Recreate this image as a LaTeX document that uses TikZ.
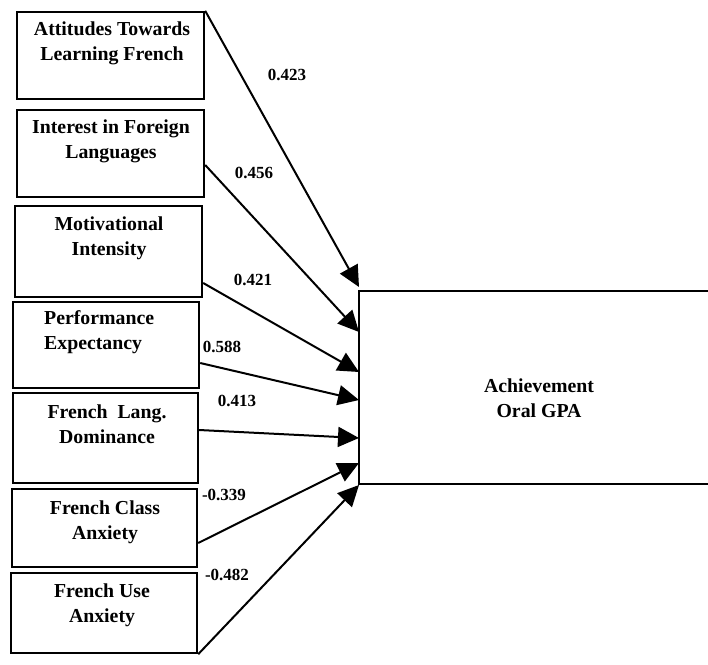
\documentclass[tikz,border=0pt]{standalone}
\usepackage{fontspec}
\setmainfont{Liberation Serif}
\usetikzlibrary{arrows.meta,calc}
\begin{document}
\begin{tikzpicture}[x=1pt,y=-1pt,
  factor/.style={draw, line width=2.4pt, inner sep=0pt},
  boxtext/.style={font=\bfseries\fontsize{19.8}{25}\selectfont, align=center, inner sep=0pt},
  coef/.style={font=\bfseries\fontsize{17}{18}\selectfont, inner sep=0pt},
  path/.style={line width=2pt, -{Triangle[length=21pt,width=20pt]}}]
\useasboundingbox[fill=white] (0,0) rectangle (708,664);

% predictor boxes
\node[factor, minimum width=187pt, minimum height=87pt] (b1) at (110.5,55.5) {};
\node[factor, minimum width=187pt, minimum height=87pt] (b2) at (110.5,153.5) {};
\node[factor, minimum width=187pt, minimum height=91pt] (b3) at (108.5,251.5) {};
\node[factor, minimum width=186pt, minimum height=86pt] (b4) at (106,345) {};
\node[factor, minimum width=185pt, minimum height=90pt] (b5) at (105.5,438) {};
\node[factor, minimum width=185pt, minimum height=78pt] (b6) at (104.5,528) {};
\node[factor, minimum width=186pt, minimum height=80pt] (b7) at (104,613) {};

% outcome box, its right side runs off the page
\node[factor, minimum width=360pt, minimum height=193pt] (ach) at (539,387.5) {};

% box texts
\node[boxtext] (l1) at (112,43) {Attitudes Towards\\Learning French};
\node[boxtext] (l2) at (111,141) {Interest in Foreign\\Languages};
\node[boxtext] (l3) at (109,238) {Motivational\\Intensity};
\node[boxtext, align=left, anchor=west] (l4) at (44,332) {Performance\\Expectancy};
\node[boxtext] (l5) at (107,424) {French~ Lang.\\Dominance};
\node[boxtext] (l6) at (105,522) {French Class\\Anxiety};
\node[boxtext] (l7) at (102,605) {French Use\\Anxiety};
\node[boxtext] (l8) at (539,398) {Achievement\\Oral GPA};

% arrow ends on the outcome box
\coordinate (e1) at (359,287);
\coordinate (e2) at (359,332);
\coordinate (e3) at (359,372);
\coordinate (e4) at (359,400);
\coordinate (e5) at (359,438);
\coordinate (e6) at (359,463);
\coordinate (e7) at (359,485);

% paths
\draw[path] (b1.north east) -- (e1);
\draw[path] ($(b2.east)+(0,11.5)$) -- (e2);
\draw[path] ($(b3.east)+(0,31.5)$) -- (e3);
\draw[path] ($(b4.east)+(0,18)$) -- (e4);
\draw[path] ($(b5.east)+(0,-8)$) -- (e5);
\draw[path] ($(b6.east)+(0,15)$) -- (e6);
\draw[path] (b7.south east) -- (e7);

% path coefficients
\node[coef] (c1) at (287,75) {0.423};
\node[coef] (c2) at (254,173) {0.456};
\node[coef] (c3) at (253,280) {0.421};
\node[coef] (c4) at (222,347) {0.588};
\node[coef] (c5) at (237,401) {0.413};
\node[coef] (c6) at (224,495) {-0.339};
\node[coef] (c7) at (227,575) {-0.482};
\end{tikzpicture}
\end{document}
